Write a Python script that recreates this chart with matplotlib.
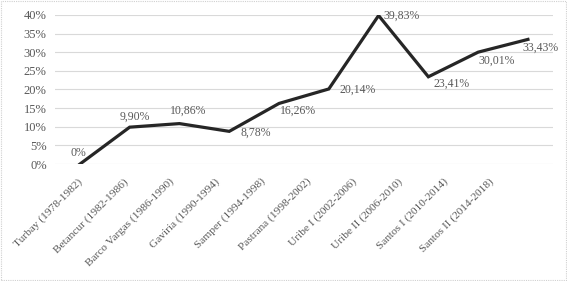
import matplotlib
matplotlib.use("Agg")
import matplotlib.pyplot as plt
from matplotlib.patches import Rectangle
from matplotlib.ticker import FuncFormatter

# datos del gráfico
gobiernos = ["Turbay (1978-1982)", "Betancur (1982-1986)", "Barco Vargas (1986-1990)",
             "Gaviria (1990-1994)", "Samper (1994-1998)", "Pastrana (1998-2002)",
             "Uribe I (2002-2006)", "Uribe II (2006-2010)", "Santos I (2010-2014)",
             "Santos II (2014-2018)"]
valores = [0.0, 9.90, 10.86, 8.78, 16.26, 20.14, 39.83, 23.41, 30.01, 33.43]
etiquetas = ["0%", "9,90%", "10,86%", "8,78%", "16,26%", "20,14%", "39,83%",
             "23,41%", "30,01%", "33,43%"]
y_ticks = [0, 5, 10, 15, 20, 25, 30, 35, 40]

# desplazamiento de las etiquetas (pixeles, y hacia arriba) y alineacion
offsets = [(-2, 11, "center"), (5, 10, "center"), (9, 13, "center"), (11, -1, "left"),
           (1, -7, "left"), (11, -1, "left"), (5, 0, "left"), (5, -7, "left"),
           (0, -9, "left"), (-5, -8, "left")]

plt.rcParams["font.family"] = ["Liberation Serif", "DejaVu Serif"]
gris = "#595959"

fig = plt.figure(figsize=(5.67, 2.81), dpi=100)
rect = [0.097, 0.416, 0.878, 0.531]
ax = fig.add_axes(rect)

x = list(range(len(gobiernos)))
ax.plot(x, valores, color="#262626", linewidth=2.3, solid_joinstyle="miter", zorder=3)

for i, (v, t) in enumerate(zip(valores, etiquetas)):
    dx, dy, ha = offsets[i]
    ax.annotate(t, (i, v), xytext=(dx, dy), textcoords="offset pixels",
                ha=ha, va="center", fontsize=8.5, color=gris)

ax.set_xlim(-0.5, len(gobiernos) - 0.5)
ax.set_ylim(0, 40)
ax.set_yticks(y_ticks)
ax.yaxis.set_major_formatter(FuncFormatter(lambda v, p: f"{v:.0f}%"))
ax.set_xticks([])
ax.tick_params(axis="y", length=0, labelsize=9, labelcolor=gris, pad=6)
ax.grid(axis="y", color="#d9d9d9", linewidth=0.8)
ax.set_axisbelow(True)
for s in ax.spines.values():
    s.set_visible(False)

# eje de etiquetas de categoria (mas comprimido que el de los puntos)
ax_lab = fig.add_axes([rect[0], rect[1], 457 / 567, rect[3]])
ax_lab.patch.set_visible(False)
ax_lab.set_xlim(-0.5, len(gobiernos) - 0.5)
ax_lab.set_xticks(x)
ax_lab.set_xticklabels(gobiernos, rotation=45, ha="right", rotation_mode="anchor")
ax_lab.set_yticks([])
ax_lab.tick_params(axis="x", length=0, labelsize=8.2, labelcolor=gris, pad=9)
for s in ax_lab.spines.values():
    s.set_visible(False)

fig.patches.append(Rectangle((0.001, 0.002), 0.997, 0.995, transform=fig.transFigure,
                             fill=False, edgecolor="#d0d0d0", linewidth=0.8,
                             linestyle=(0, (1, 1))))

fig.savefig("out.png", dpi=100)
